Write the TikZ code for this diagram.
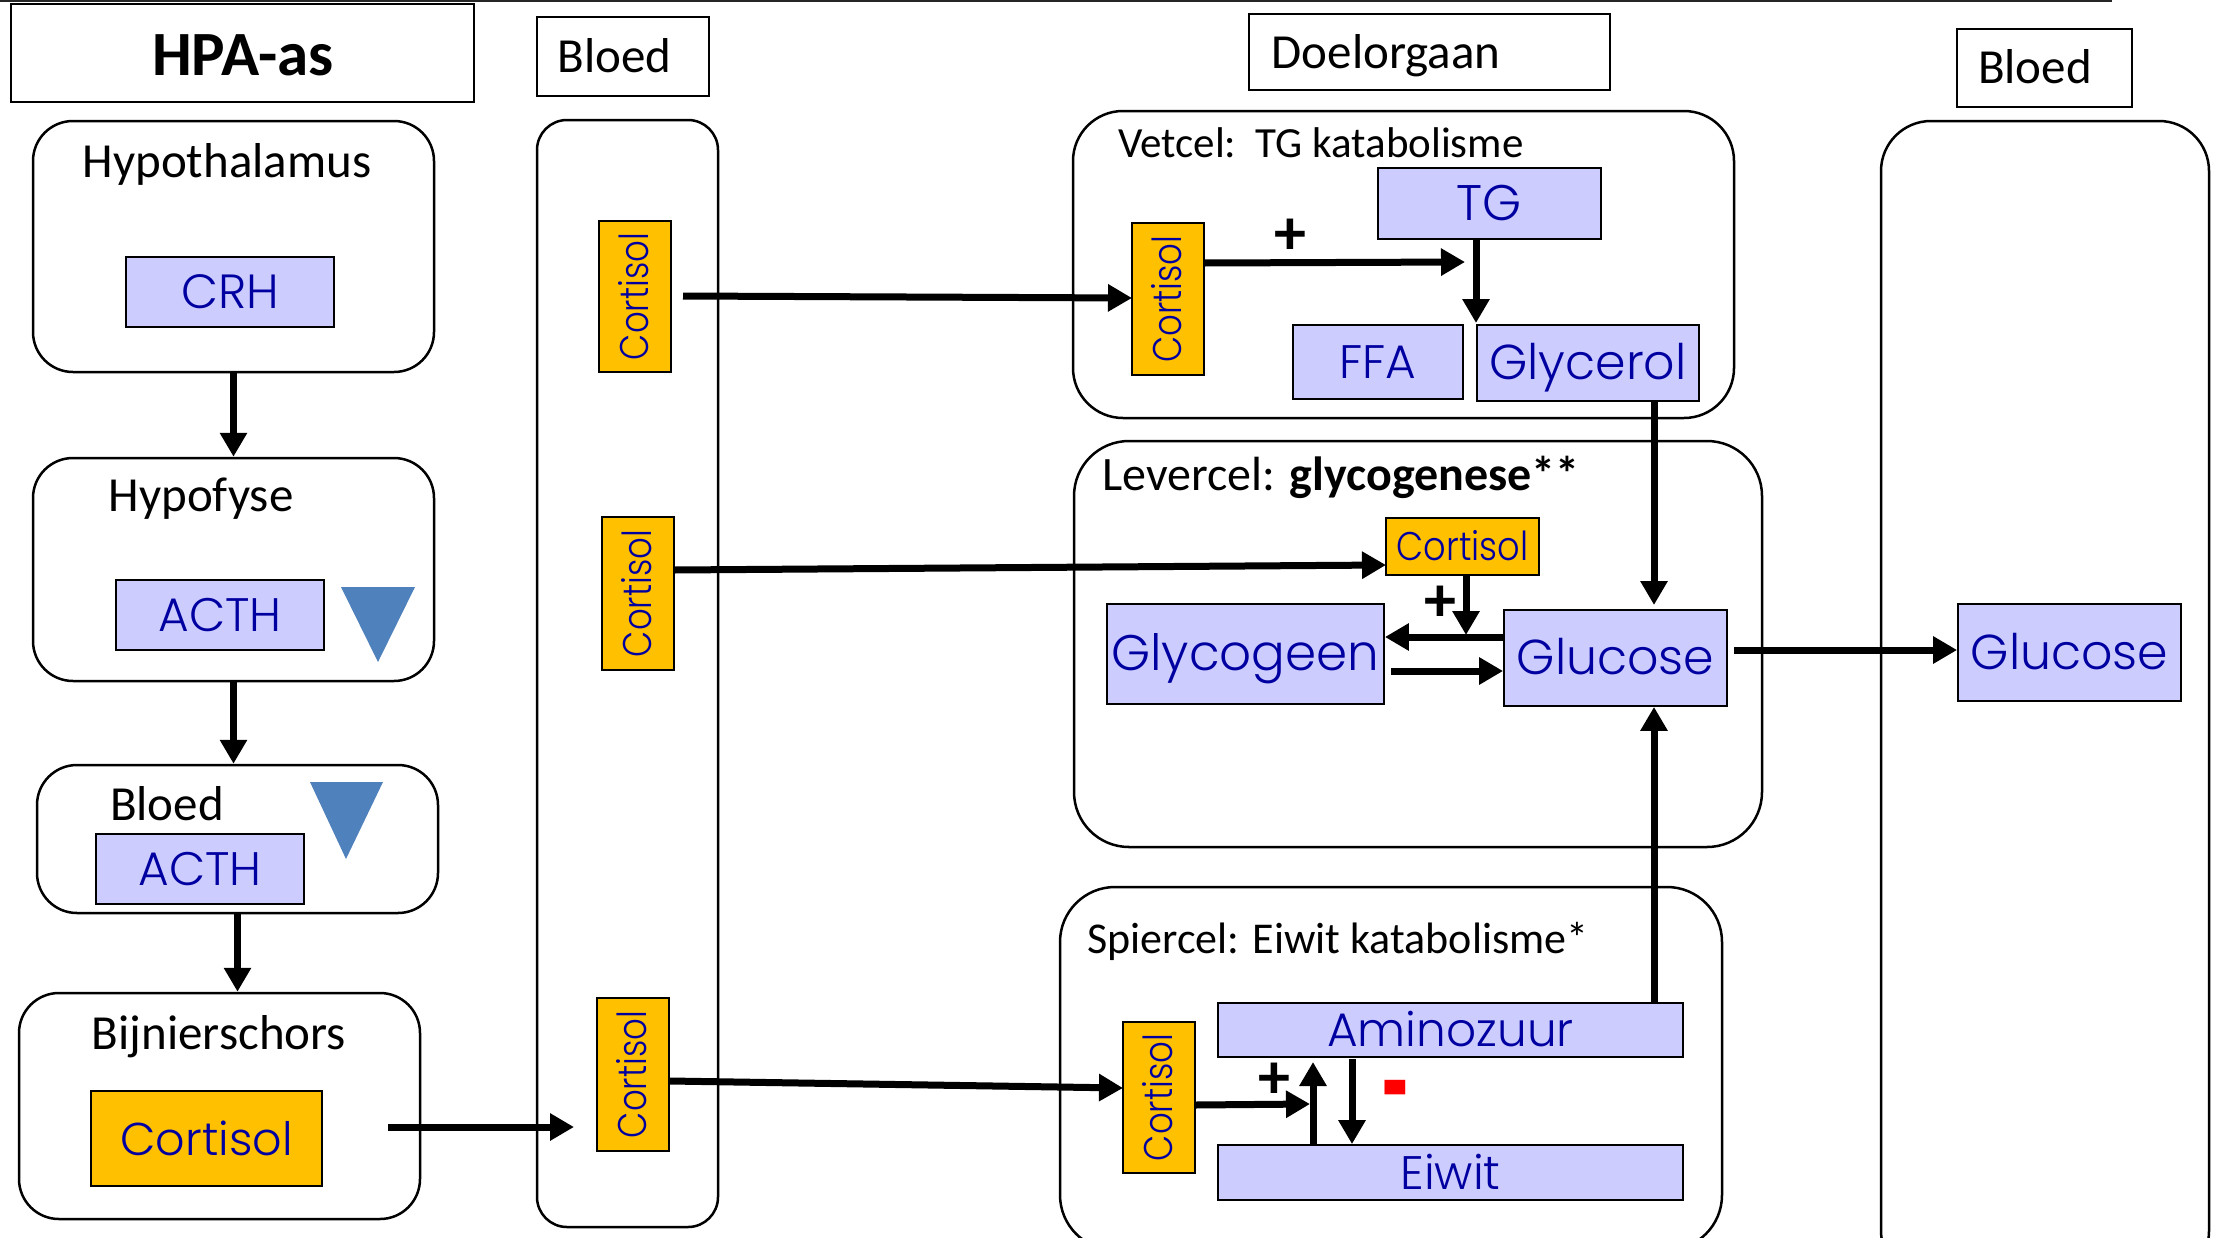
\documentclass[tikz,border=0pt]{standalone}
\usepackage{fontspec}
\usepackage{graphicx}
\setmainfont{Carlito}
\newfontfamily\gothic{Poppins Light}
\usetikzlibrary{arrows.meta}
\definecolor{lav}{RGB}{204,204,255}
\definecolor{navyb}{RGB}{0,0,160}
\definecolor{orng}{RGB}{255,192,0}
\definecolor{tri}{RGB}{79,129,189}
\tikzset{
 rbox/.style={draw, line width=2.5pt, rounded corners=#1, inner sep=0pt},
 rbox/.default=40pt,
 hdr/.style={draw, line width=2pt, inner sep=0pt},
 lav/.style={draw, line width=1.8pt, fill=lav, text=navyb, inner sep=0pt, text height=33pt, text depth=0pt, font=\gothic\fontsize{47}{50}\selectfont},
 ora/.style={lav, fill=orng},
 vora/.style={ora, text height=27pt},
 arr/.style={line width=7pt, -{Triangle[length=24pt,width=26pt]}},
 lbl/.style={font=\fontsize{49}{52}\selectfont, inner sep=0pt, anchor=base},
 ttl/.style={font=\fontsize{44}{46}\selectfont, inner sep=0pt, anchor=base west},
 plus/.style={font=\fontsize{64}{64}\selectfont\bfseries, inner sep=0pt},
}
\newcommand{\vcort}{\fontsize{40}{40}\selectfont\scalebox{0.85}[1]{Cortisol}}
\begin{document}
\begin{tikzpicture}[x=1pt,y=-1pt]
\useasboundingbox[fill=white] (0,0) rectangle (2213,1237);
\draw[line width=1.5pt, black!85] (0,1) -- (2112,1);

% headers
\node[hdr, minimum width=463pt, minimum height=98pt] (hpa) at (242.5,53) {};
\node[lbl, font=\fontsize{63}{66}\selectfont\bfseries] (hpat) at (243,75) {HPA-as};
\node[hdr, minimum width=172pt, minimum height=79pt] (bl1) at (623,56.5) {};
\node[lbl] (bl1t) at (614.5,72) {Bloed};
\node[hdr, minimum width=361pt, minimum height=76pt] (doel) at (1429.5,52) {};
\node[lbl] (doelt) at (1386,68) {Doelorgaan};
\node[hdr, minimum width=175pt, minimum height=78pt] (bl2) at (2044.5,68) {};
\node[lbl] (bl2t) at (2035,83) {Bloed};

% left column
\node[rbox, minimum width=401pt, minimum height=251pt] (hyp) at (233.5,246.5) {};
\node[lbl] (hypt) at (227,177) {Hypothalamus};
\node[lav, minimum width=208pt, minimum height=70pt, font=\gothic\fontsize{48}{50}\selectfont] (crh) at (230,292) {CRH};

\node[rbox, minimum width=401pt, minimum height=223pt] (hpf) at (233.5,569.5) {};
\node[lbl] (hpft) at (201,511) {Hypofyse};
\node[lav, minimum width=208pt, minimum height=70pt, font=\gothic\fontsize{47}{48}\selectfont] (acth1) at (220,615) {ACTH};
\fill[tri] (341,587) -- (415,587) -- (378,662) -- cycle;

\node[rbox, minimum width=401pt, minimum height=148pt] (bld) at (237.5,839) {};
\node[lbl] (bldt) at (167,820) {Bloed};
\fill[tri] (310,782) -- (383,782) -- (346,859) -- cycle;
\node[lav, minimum width=208pt, minimum height=70pt, font=\gothic\fontsize{47}{48}\selectfont] (acth2) at (200,869) {ACTH};

\node[rbox, minimum width=401pt, minimum height=226pt] (bij) at (219.5,1106) {};
\node[lbl] (bijt) at (219,1049) {Bijnierschors};
\node[ora, minimum width=231pt, minimum height=95pt, font=\gothic\fontsize{46}{48}\selectfont] (cbig) at (206.5,1138.5) {Cortisol};

\draw[arr] (hyp.south) -- (hyp.south |- hpf.north);
\draw[arr] (hpf.south) -- (hpf.south |- bld.north);
\draw[arr] (bld.south) -- (bld.south |- bij.north);
\coordinate (c0s) at (388,1127);
\coordinate (c0e) at (574,1127);
\draw[arr] (c0s) -- (c0e);

% blood column
\node[rbox=30pt, minimum width=181pt, minimum height=1107pt] (blood1) at (627.5,673.5) {};
\node[vora, rotate=90, minimum width=151pt, minimum height=72pt] (cort1) at (635,296.5) {\vcort};
\node[vora, rotate=90, minimum width=153pt, minimum height=72pt] (cort2) at (638,593.5) {\vcort};
\node[vora, rotate=90, minimum width=153pt, minimum height=72pt] (cort3) at (633,1074.5) {\vcort};

% Vetcel
\node[rbox=50pt, minimum width=661pt, minimum height=307pt] (vet) at (1403.5,264.5) {};
\node[ttl, font=\fontsize{43}{45}\selectfont] (vett) at (1118,157) {Vetcel:\ \ TG katabolisme};
\node[lav, minimum width=223pt, minimum height=71pt, font=\gothic\fontsize{50}{52}\selectfont] (tg) at (1489.5,203.5) {TG};
\node[vora, rotate=90, minimum width=152pt, minimum height=72pt] (cortV) at (1168,299) {\vcort};
\node[lav, minimum width=170pt, minimum height=74pt, font=\gothic\fontsize{47}{49}\selectfont] (ffa) at (1378,362) {FFA};
\node[lav, minimum width=222pt, minimum height=76pt, font=\gothic\fontsize{49}{51}\selectfont] (glyc) at (1588,363) {Glycerol};
\coordinate (v1s) at (683,296);
\coordinate (v1e) at (1132,298);
\draw[arr] (v1s) -- (v1e);
\coordinate (v2s) at (1204,263);
\coordinate (v2e) at (1465,262);
\draw[arr] (v2s) -- (v2e);
\node[plus] (vplus) at (1290,237) {+};
\coordinate (v3x) at (1476,0);
\coordinate (v3e) at (1476,323);
\draw[arr] (tg.south -| v3x) -- (v3e);

% Levercel
\node[rbox=55pt, minimum width=688pt, minimum height=406pt] (lev) at (1418,644) {};
\node[ttl, font=\fontsize{48}{50}\selectfont] (levt) at (1102,490) {Levercel: \textbf{glycogenese**}};
\node[vora, minimum width=153pt, minimum height=57pt, font=\gothic\fontsize{40}{42}\selectfont] (cortL) at (1462.5,546.5) {\scalebox{0.88}[1]{Cortisol}};
\node[lav, minimum width=277pt, minimum height=100pt, font=\gothic\fontsize{50}{52}\selectfont] (glyco) at (1245.5,654) {Glycogeen};
\node[lav, minimum width=223pt, minimum height=96pt, font=\gothic\fontsize{49}{51}\selectfont] (gluc) at (1615.5,658) {Glucose};
\coordinate (l1s) at (674,570);
\coordinate (l1e) at (1386,565);
\draw[arr] (l1s) -- (l1e);
\coordinate (l2x) at (1466,0);
\coordinate (l2e) at (1466,635);
\draw[arr] (cortL.south -| l2x) -- (l2e);
\node[plus] (lplus) at (1440,604) {+};
\coordinate (l3y) at (0,637);
\draw[arr] (gluc.west |- l3y) -- (glyco.east |- l3y);
\coordinate (l4s) at (1391,671);
\coordinate (l4y) at (0,671);
\draw[arr] (l4s) -- (gluc.west |- l4y);
\coordinate (gx) at (1654,0);
\coordinate (l5e) at (1654,605);
\draw[arr] (glyc.south -| gx) -- (l5e);

% Spiercel
\node[rbox=55pt, minimum width=662pt, minimum height=363pt] (spi) at (1391,1068.5) {};
\node[ttl] (spit) at (1087,953) {Spiercel: Eiwit katabolisme*};
\node[lav, minimum width=465pt, minimum height=54pt, font=\gothic\fontsize{47}{49}\selectfont] (amino) at (1450.5,1030) {Aminozuur};
\node[lav, minimum width=465pt, minimum height=55pt, font=\gothic\fontsize{47}{49}\selectfont] (eiwit) at (1450.5,1172.5) {Eiwit};
\node[vora, rotate=90, minimum width=151pt, minimum height=72pt] (cortS) at (1159,1097.5) {\vcort};
\coordinate (s1s) at (670,1081);
\coordinate (s1e) at (1123,1088);
\draw[arr] (s1s) -- (s1e);
\coordinate (s2s) at (1195,1105);
\coordinate (s2e) at (1310,1104);
\draw[arr] (s2s) -- (s2e);
\node[plus] (splus) at (1274,1081) {+};
\coordinate (s3x) at (1313,0);
\coordinate (s3e) at (1313,1062);
\draw[arr] (eiwit.north -| s3x) -- (s3e);
\coordinate (s4s) at (1352,1059);
\coordinate (s4x) at (1352,0);
\draw[arr] (s4s) -- (eiwit.north -| s4x);
\node[text=red, inner sep=0pt] (minus) at (1395,1104) {\fontsize{28}{28}\selectfont\bfseries\scalebox{3}[5]{-}};
\draw[arr] (amino.north -| gx) -- (gluc.south -| gx);

% right blood
\node[rbox=50pt, minimum width=328pt, minimum height=1160pt] (blood2) at (2045,701) {};
\node[lav, minimum width=223pt, minimum height=97pt, font=\gothic\fontsize{49}{51}\selectfont] (gluc2) at (2069.5,652.5) {Glucose};
\coordinate (r1y) at (0,650);
\coordinate (r1s) at (1734,650);
\draw[arr] (r1s) -- (gluc2.west |- r1y);
\end{tikzpicture}
\end{document}
